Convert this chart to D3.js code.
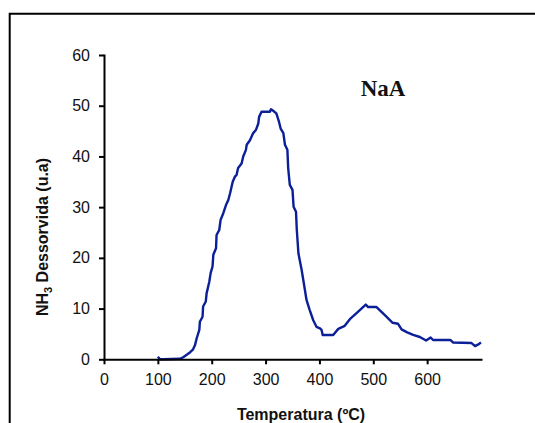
<!DOCTYPE html>
<html lang="pt">
<head>
<meta charset="UTF-8"/>
<title>NaA - TPD NH3</title>
<script src="https://d3js.org/d3.v7.min.js"></script>
<style>
	body { margin: 0; background: #FFFFFF; overflow: hidden; }
	svg { display: block; font-family: "Liberation Sans", Arial, sans-serif; }
	.axis path, .axis line { stroke: #000; stroke-width: 2px; }
	.axis text { font-size: 16px; fill: #111; font-family: "Liberation Sans", Arial, sans-serif; }
</style>
</head>
<body>
<div id="chart"></div>
<script>
	// Temperatura (ºC) and NH3 dessorvida (u.a)
	var temperatura = [100, 104, 110, 141, 147, 153, 160, 165, 169, 172, 177, 178, 183, 184, 189, 190.5,
		195.5, 198, 201.5, 203, 208, 209, 214, 216.5, 221.5, 226.5, 230.8, 234, 239, 243, 246, 249,
		255.5, 258.5, 263.5, 265, 271, 277, 282, 286.5, 288, 292.5, 308, 310, 314, 320, 325, 328,
		333, 336, 340.5, 342, 345, 350, 352, 356.5, 358, 361, 367, 373, 376, 382, 388.5, 394.5,
		401, 404, 406, 425.5, 435, 447, 456.5, 472, 486, 490.5, 506, 521.5, 536, 546, 552.5, 563,
		574, 586.5, 598, 606.5, 611, 643.5, 648.5, 682.5, 689, 696, 700];
	var nh3 = [0.5, 0, 0, 0.1, 0.4, 0.85, 1.4, 1.9, 2.8, 4.1, 5.8, 7.4, 8.4, 10.4, 11.4, 13,
		15.3, 17, 18.3, 20.6, 21.9, 24.5, 25.5, 27.5, 28.8, 30.4, 31.4, 32.7, 35, 36, 36.3, 37.7,
		38.6, 40, 41.3, 42.3, 43.2, 44.6, 45.2, 46.5, 47.8, 48.8, 48.8, 49.3, 49, 48.5, 46.8, 45.5,
		44.6, 42.3, 41.3, 37.7, 34.4, 33.4, 30.1, 29.1, 25.5, 20.9, 17.6, 13.7, 11.7, 9.7, 7.7, 6.4,
		6.1, 5.8, 4.8, 4.8, 6, 6.6, 7.9, 9.4, 10.8, 10.3, 10.3, 8.7, 7.2, 7, 5.9, 5.3,
		4.8, 4.4, 3.7, 4.3, 3.8, 3.8, 3.3, 3.2, 2.6, 3.0, 3.3];

	var xTicks = [0, 100, 200, 300, 400, 500, 600];
	var yTicks = [0, 10, 20, 30, 40, 50, 60];

	var w = 535;
	var h = 423;

	var dataset = temperatura.map(function (t, i) { return [t, nh3[i]]; });

	var xScale = d3.scaleLinear().domain([0, 700]).range([104, 481]);
	var yScale = d3.scaleLinear().domain([0, 60]).range([359.3, 55]);

	var svg = d3.select("#chart")
		.append("svg")
		.attr("width", w)
		.attr("height", h);

	// outer frame: only the left and top edges fall inside the picture
	svg.append("path")
		.attr("d", "M9.7," + h + "V13.7H" + w)
		.attr("fill", "none")
		.attr("stroke", "#000")
		.attr("stroke-width", 2);

	// curve
	var line = d3.line()
		.x(function (d) { return xScale(d[0]); })
		.y(function (d) { return yScale(d[1]); });

	svg.append("path")
		.datum(dataset)
		.attr("d", line)
		.attr("fill", "none")
		.attr("stroke", "#0a1f98")
		.attr("stroke-width", 2.4)
		.attr("stroke-linejoin", "round");

	// axes
	var xAxis = d3.axisBottom(xScale).tickValues(xTicks).tickSize(5).tickSizeOuter(0).tickPadding(9);
	var yAxis = d3.axisLeft(yScale).tickValues(yTicks).tickSize(5).tickSizeOuter(0).tickPadding(9);

	svg.append("g")
		.attr("class", "axis")
		.attr("transform", "translate(0," + yScale(0) + ")")
		.call(xAxis);

	svg.append("g")
		.attr("class", "axis")
		.attr("transform", "translate(" + xScale(0) + ",0)")
		.call(yAxis);

	svg.selectAll(".axis .domain").attr("stroke-linecap", "square");

	// axis titles
	svg.append("text")
		.attr("x", 301)
		.attr("y", 420)
		.attr("text-anchor", "middle")
		.attr("font-weight", "bold")
		.attr("font-size", "16px")
		.attr("fill", "#111")
		.text("Temperatura (ºC)");

	var yTitle = svg.append("text")
		.attr("transform", "translate(47.5,237) rotate(-90)")
		.attr("text-anchor", "middle")
		.attr("font-weight", "bold")
		.attr("font-size", "16px")
		.attr("fill", "#111");
	yTitle.append("tspan").text("NH");
	yTitle.append("tspan").attr("font-size", "11px").attr("dy", 4).text("3");
	yTitle.append("tspan").attr("dy", -4).text(" Dessorvida (u.a)");

	// sample label
	svg.append("text")
		.attr("x", 383)
		.attr("y", 96)
		.attr("text-anchor", "middle")
		.attr("font-family", "'Liberation Serif', 'Times New Roman', serif")
		.attr("font-weight", "bold")
		.attr("font-size", "23px")
		.attr("fill", "#111")
		.text("NaA");
</script>
</body>
</html>
